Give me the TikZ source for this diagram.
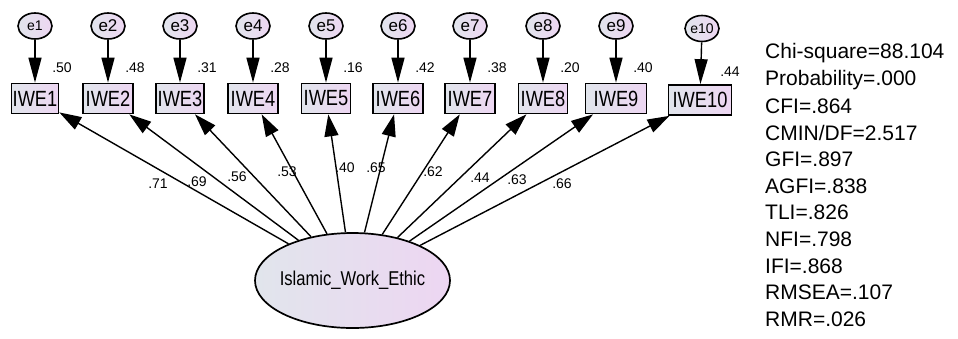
\documentclass[tikz,border=0pt]{standalone}
\usepackage{fontspec}
\setmainfont{Liberation Sans}
\newfontfamily\narrowsans[FakeStretch=0.83]{Liberation Sans}
\usetikzlibrary{arrows.meta,shapes.geometric}
\definecolor{shadeL}{HTML}{E1E5EC}
\definecolor{shadeR}{HTML}{EDD6F2}
\begin{document}
\begin{tikzpicture}[x=1pt,y=-1pt,
  errvar/.style={ellipse,draw,line width=1.6pt,minimum width=34pt,minimum height=26pt,
    inner sep=0pt,left color=shadeL,right color=shadeR,font=\fontsize{17}{17}\selectfont},
  obs/.style={rectangle,draw,line width=1.7pt,minimum height=30pt,inner sep=1pt,
    left color=shadeL,right color=shadeR,font=\narrowsans\fontsize{22}{22}\selectfont},
  latent/.style={ellipse,draw,line width=1.7pt,minimum width=195pt,minimum height=95pt,
    inner sep=0pt,left color=shadeL,right color=shadeR},
  latlabel/.style={inner sep=0pt,font=\narrowsans\fontsize{20}{20}\selectfont},
  regpath/.style={line width=1.4pt,-{Triangle[length=22pt,width=14pt]}},
  errpath/.style={line width=1.4pt,-{Triangle[length=25pt,width=13pt]}},
  est/.style={font=\fontsize{14}{14}\selectfont,inner sep=0pt},
  fitidx/.style={anchor=west,font=\fontsize{21}{21}\selectfont,inner sep=0pt}]
\useasboundingbox (0,0) rectangle (958,338);

% latent factor
\node[latent] (lat) at (352.5,280.5) {};
\node[latlabel] (latname) at (lat.center) {Islamic\_Work\_Ethic};

% indicators with their error terms
\foreach \i/\x/\w/\r in {1/35/47/.50,2/108/50/.48,3/180/48/.31,4/253/50/.28,5/326/49/.16,
                         6/398/50/.42,7/470/50/.38,8/543/49/.20,9/616/61/.40} {
  \node[obs,minimum width=\w pt] (v\i) at (\x,98.5) {IWE\i};
  \draw[regpath] (lat) -- (v\i);
}
\foreach \i/\x/\r in {2/108/.48,3/180/.31,4/253/.28,5/326/.16,
                      6/398/.42,7/470/.38,8/543/.20,9/616/.40} {
  \node[errvar] (e\i) at (\x,26) {e\i};
  \draw[errpath] (e\i) -- (v\i);
  \node[est] (r\i) at (\x+27,68) {\r};
}
\node[errvar,font=\fontsize{14}{14}\selectfont] (e1) at (35,26) {e1};
\draw[errpath] (e1) -- (v1);
\node[est] (r1) at (62,68) {.50};

\node[obs,minimum width=63pt] (v10) at (700,100) {IWE10};
\node[errvar,font=\fontsize{14}{14}\selectfont] (e10) at (702,28.5) {e10};
\draw[errpath] (e10) -- (v10);
\node[est] (r10) at (730,72) {.44};
\draw[regpath] (lat) -- (v10);

% standardized loadings
\node[est] (l1) at (158,184) {.71};
\node[est] (l2) at (197,182) {.69};
\node[est] (l3) at (237,177) {.56};
\node[est] (l4) at (287,172) {.53};
\node[est] (l5) at (345,168) {.40};
\node[est] (l6) at (376,168) {.65};
\node[est] (l7) at (433,172) {.62};
\node[est] (l8) at (480,178) {.44};
\node[est] (l9) at (517,180) {.63};
\node[est] (l10) at (562,184) {.66};

% model fit summary
\node[fitidx] (f1) at (765,53.0) {Chi-square=88.104};
\node[fitidx] (f2) at (765,79.6) {Probability=.000};
\node[fitidx] (f3) at (765,106.2) {CFI=.864};
\node[fitidx] (f4) at (765,132.8) {CMIN/DF=2.517};
\node[fitidx] (f5) at (765,159.4) {GFI=.897};
\node[fitidx] (f6) at (765,186.0) {AGFI=.838};
\node[fitidx] (f7) at (765,212.6) {TLI=.826};
\node[fitidx] (f8) at (765,239.2) {NFI=.798};
\node[fitidx] (f9) at (765,265.8) {IFI=.868};
\node[fitidx] (f10) at (765,292.4) {RMSEA=.107};
\node[fitidx] (f11) at (765,319.0) {RMR=.026};
\end{tikzpicture}
\end{document}
